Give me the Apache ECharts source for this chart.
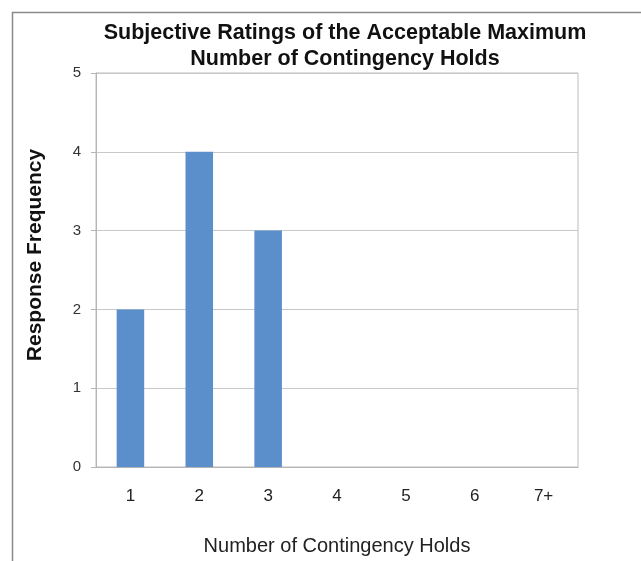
<!DOCTYPE html>
<html>
<head>
<meta charset="utf-8">
<script src="https://cdn.jsdelivr.net/npm/echarts@6/dist/echarts.min.js"></script>
<style>html,body{margin:0;padding:0;background:#fff}#c{width:641px;height:561px}</style>
</head>
<body>
<div id="c"></div>
<script>
const categories = ['1','2','3','4','5','6','7+'];
const frequencies = [2,4,3,0,0,0,0];
const titleText = 'Subjective Ratings of the Acceptable Maximum\nNumber of Contingency Holds';
const xName = 'Number of Contingency Holds';
const yName = 'Response Frequency';

const FONT = 'Liberation Sans, Arial, sans-serif';
const chart = echarts.init(document.getElementById('c'));
chart.setOption({
  animation: false,
  backgroundColor: '#fff',
  graphic: [{
    type: 'rect', left: 10, top: 10,
    shape: {width: 700, height: 600},
    style: {fill: 'none', stroke: '#8a8a8a', lineWidth: 1.5},
    silent: true
  }],
  title: {
    text: titleText,
    left: 340, top: 15, textAlign: 'center',
    textStyle: {fontFamily: FONT, fontWeight: 'bold', fontSize: 21.5, lineHeight: 26, color: '#111'}
  },
  grid: {left: 96, top: 73, right: 63, bottom: 94, show: true, borderColor: '#bdbdbd', borderWidth: 1},
  xAxis: {
    type: 'category', data: categories,
    name: xName, nameLocation: 'middle', nameGap: 69,
    nameTextStyle: {fontFamily: FONT, fontSize: 20, color: '#222', verticalAlign: 'top'},
    axisLine: {lineStyle: {color: '#b5b5b5'}},
    axisTick: {show: false},
    axisLabel: {margin: 21, fontFamily: FONT, fontSize: 17, color: '#222'}
  },
  yAxis: {
    type: 'value', min: 0, max: 5, interval: 1,
    name: yName, nameLocation: 'middle', nameGap: 50,
    nameTextStyle: {fontFamily: FONT, fontWeight: 'bold', fontSize: 21, color: '#111', padding: [0, 0, 0, 30]},
    axisLine: {show: true, lineStyle: {color: '#b5b5b5'}},
    axisTick: {show: true, length: 5, lineStyle: {color: '#b5b5b5'}},
    axisLabel: {margin: 15, fontFamily: FONT, fontSize: 15, color: '#333'},
    splitLine: {lineStyle: {color: '#c8c8c8'}}
  },
  series: [{
    type: 'bar', data: frequencies, barWidth: '40%',
    itemStyle: {color: '#5b8fcb'}
  }]
});
</script>
</body>
</html>
